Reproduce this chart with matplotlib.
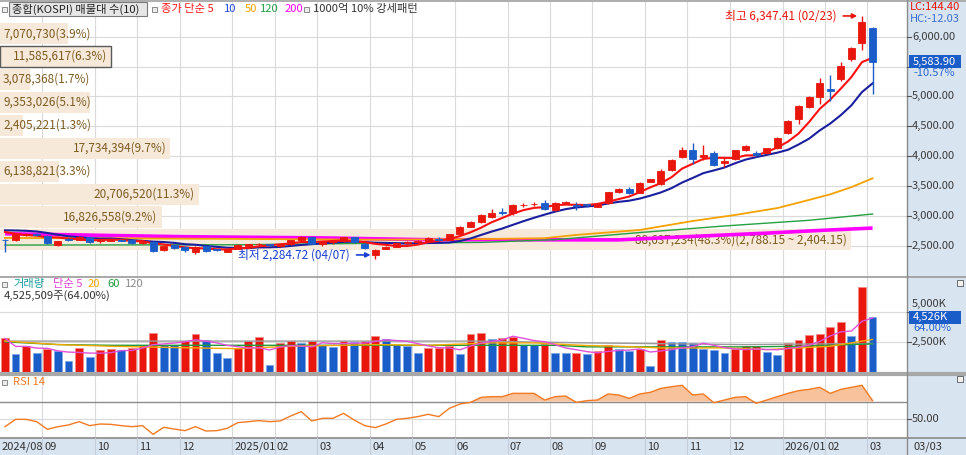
import matplotlib
matplotlib.use("Agg")
import matplotlib.pyplot as plt
import matplotlib.transforms as mtrans
from matplotlib.patches import Rectangle
from matplotlib.lines import Line2D
import numpy as np
import pandas as pd

plt.rcParams['font.family'] = ['Noto Sans CJK KR', 'DejaVu Sans']
plt.rcParams['axes.unicode_minus'] = False

# ---------------- data ----------------
month_labels = ['2024/08', '09', '10', '11', '12', '2025/01', '02', '03', '04', '05',
                '06', '07', '08', '09', '10', '11', '12', '2026/01', '02', '03']
month_start = [0, 4, 9, 13, 17, 22, 26, 30, 35, 39, 43, 48, 52, 56, 61, 65, 69, 74, 78, 82]

prior_closes = [2722, 2758, 2784, 2797, 2862, 2857, 2795, 2731, 2676]

opens = [2600, 2590, 2680, 2700, 2665, 2510, 2605, 2600, 2640, 2570,
         2585, 2600, 2590, 2540, 2565, 2420, 2505, 2470, 2390, 2490,
         2440, 2400, 2450, 2500, 2520, 2530, 2490, 2520, 2590, 2640,
         2530, 2560, 2570, 2640, 2520, 2340, 2450, 2480, 2545, 2560,
         2580, 2620, 2595, 2700, 2820, 2890, 2980, 3070, 3040, 3175,
         3190, 3210, 3100, 3215, 3175, 3190, 3150, 3210, 3400, 3450,
         3390, 3570, 3540, 3760, 3980, 4110, 3990, 4060, 3890, 3950,
         4110, 4050, 4060, 4130, 4380, 4620, 4820, 4990, 5120, 5290,
         5620, 5890, 6150]
highs = [2615, 2700, 2720, 2710, 2680, 2580, 2630, 2660, 2650, 2610,
         2620, 2610, 2620, 2590, 2570, 2510, 2520, 2500, 2495, 2500,
         2450, 2450, 2530, 2530, 2550, 2535, 2530, 2600, 2670, 2650,
         2580, 2590, 2650, 2650, 2540, 2440, 2490, 2550, 2570, 2590,
         2640, 2640, 2700, 2830, 2920, 3030, 3110, 3130, 3190, 3220,
         3230, 3260, 3230, 3240, 3230, 3200, 3215, 3400, 3470, 3490,
         3560, 3620, 3780, 3950, 4146, 4226, 4180, 4080, 3990, 4110,
         4180, 4090, 4140, 4320, 4600, 4860, 5010, 5300, 5360, 5570,
         5820, 6347.41, 6170]
lows = [2387, 2570, 2660, 2660, 2530, 2490, 2570, 2590, 2550, 2550,
        2575, 2570, 2530, 2520, 2400, 2410, 2440, 2390, 2360, 2390,
        2410, 2390, 2440, 2480, 2505, 2500, 2470, 2510, 2580, 2520,
        2500, 2530, 2560, 2540, 2440, 2284.72, 2440, 2470, 2530, 2550,
        2570, 2580, 2590, 2690, 2810, 2880, 2970, 3020, 3020, 3140,
        3170, 3090, 3080, 3190, 3100, 3140, 3140, 3200, 3380, 3370,
        3380, 3560, 3520, 3750, 3960, 3870, 3930, 3830, 3825, 3940,
        4090, 3990, 4040, 4120, 4370, 4540, 4800, 4870, 4930, 5260,
        5600, 5770, 5040]
closes = [2588, 2697, 2701, 2674, 2544, 2575, 2593, 2649, 2569, 2597,
          2593, 2583, 2542, 2561, 2416, 2501, 2455, 2428, 2480, 2404,
          2429, 2441, 2515, 2523, 2536, 2517, 2521, 2591, 2641, 2532,
          2563, 2566, 2643, 2557, 2465, 2420, 2483, 2546, 2559, 2577,
          2626, 2592, 2697, 2812, 2894, 3010, 3050, 3054, 3175, 3188,
          3196, 3119, 3210, 3225, 3168, 3186, 3205, 3395, 3445, 3386,
          3549, 3610, 3748, 3941, 4107, 3953, 4011, 3853, 3926, 4100,
          4167, 4021, 4129, 4309, 4586, 4840, 4990, 5224, 5090, 5507,
          5808, 6244, 5583.90]

volume_k = [2771, 1442, 2122, 1527, 1867, 1725, 933, 1980, 1244, 1839,
            1923, 1839, 2008, 2235, 3253, 2235, 2207, 2517, 3111, 2658,
            1527, 1159, 1980, 2517, 2856, 538, 2404, 2517, 2376, 2517,
            2235, 2065, 2573, 2461, 2573, 2941, 2743, 2263, 2178, 1584,
            1968, 2000, 2150, 1442, 3111, 3196, 2743, 2800, 2913, 2263,
            2248, 2269, 1584, 1527, 1544, 1442, 1754, 2207, 1895, 1725,
            1895, 481, 2658, 2461, 2445, 2376, 1923, 1782, 1527, 1867,
            2122, 2150, 1612, 1386, 2433, 2630, 3026, 3111, 3705, 4157,
            2941, 7071, 4525.509]

rsi14 = [41.1, 49.6, 49.6, 46.9, 38.1, 41.1, 43.1, 46.9, 42.3, 44.2,
         43.8, 42.3, 41.1, 42.3, 32.3, 40.4, 38.4, 36.5, 41.1, 36.1,
         36.5, 39.2, 45.8, 46.9, 48.1, 46.9, 47.7, 53.4, 58.5, 47.7,
         50.8, 50.8, 56.5, 48.8, 42.3, 40.0, 44.2, 49.6, 50.8, 52.7,
         55.4, 52.7, 62.3, 67.3, 69.2, 75.0, 75.8, 75.8, 79.6, 79.6,
         79.6, 71.9, 75.8, 76.5, 69.2, 71.2, 71.9, 78.9, 77.7, 73.8,
         78.9, 80.8, 85.4, 87.3, 88.9, 77.7, 78.9, 68.8, 71.9, 75.0,
         75.8, 68.1, 71.9, 75.8, 79.6, 82.7, 84.2, 86.6, 79.6, 84.2,
         86.6, 88.9, 71.2]

# long moving averages (index, value)
ma50_idx = [0, 20, 35, 45, 51, 54, 60, 65, 69, 73, 75, 78, 80, 82]
ma50_val = [2630, 2615, 2600, 2610, 2625, 2680, 2763, 2913, 3014, 3130, 3220, 3360, 3480, 3628]
ma120_idx = [0, 22, 35, 45, 52, 60, 68, 76, 82]
ma120_val = [2510, 2515, 2540, 2555, 2600, 2720, 2830, 2925, 3030]
ma200_idx = [0, 17, 30, 40, 58, 65, 72, 77, 82]
ma200_val = [2700, 2650, 2630, 2600, 2597, 2655, 2710, 2755, 2795]

vol_ma20_idx = [0, 5, 10, 18, 22, 27, 35, 40, 46, 50, 55, 58, 62, 68, 72, 75, 78, 82]
vol_ma20_val = [2550, 2260, 2120, 1980, 1920, 2120, 2260, 2200, 2400, 2400, 2180, 2120, 1980, 1980, 1840, 1980, 2120, 2690]
vol_ma60_idx = [0, 5, 10, 45, 52, 55, 70, 75, 82]
vol_ma60_val = [2490, 2260, 2200, 2200, 2200, 2070, 2070, 2120, 2320]
vol_ma120_idx = [0, 45, 55, 70, 82]
vol_ma120_val = [2550, 2550, 2400, 2260, 2350]

# volume profile (매물대), bottom band first
vp_values = [88637234, 16826558, 20706520, 6138821, 17734394, 2405221, 9353026, 3078368, 11585617, 7070730]
vp_pct = [48.3, 9.2, 11.3, 3.3, 9.7, 1.3, 5.1, 1.7, 6.3, 3.9]
vp_band_low = 2404.15
vp_band_step = 384.0
vp_current_band = 8

price_ticks = [2500, 3000, 3500, 4000, 4500, 5000, 5500, 6000]
price_labels_shown = [2500, 3000, 3500, 4000, 4500, 5000, 6000]
vol_ticks = [2500, 5000]

hi_idx, hi_text = 81, "최고 6,347.41 (02/23)"
lo_idx, lo_text = 35, "최저 2,284.72 (04/07)"
last_close_text = "5,583.90"
last_change_text = "-10.57%"
lc_text, hc_text = "LC:144.40", "HC:-12.03"
vol_last_text, vol_pct_text = "4,526K", "64.00%"
vol_info_text = "4,525,509주(64.00%)"
date_text = "03/03"

# ---------------- layout ----------------
W, H = 966, 455
XPLOT = 907
SLOT, X0 = 10.58, 5.0
RED, BLUE = '#e8160c', '#1a5cc8'
STRIP = '#d9e4f1'
GRID = '#dadada'
VPBAR = '#f6e9da'
VPTXT = '#7d5c22'
FS = 8
FSL = 8.5
FLEG = 8.1

fig = plt.figure(figsize=(W / 100, H / 100), dpi=100)
fig.patch.set_facecolor('white')


def pane(y_top, y_bot):
    ax = fig.add_axes([0, 1 - y_bot / H, XPLOT / W, (y_bot - y_top) / H])
    ax.set_xlim(-X0 / SLOT, (XPLOT - X0) / SLOT)
    ax.axis('off')
    return ax


def frect(x0, y0, x1, y1, **kw):
    r = Rectangle((x0 / W, 1 - y1 / H), (x1 - x0) / W, (y1 - y0) / H,
                  transform=fig.transFigure, **kw)
    fig.patches.append(r)
    return r


def ftext(px, py, s, **kw):
    kw.setdefault('va', 'center')
    kw.setdefault('fontsize', FS)
    kw.setdefault('zorder', 3)
    return fig.text(px / W, 1 - py / H, s, **kw)


def square(px, py):
    frect(px - 2.5, py - 2.5, px + 2.5, py + 2.5, facecolor='#ececec',
          edgecolor='#8a8a8a', linewidth=0.7, zorder=2)


axp = pane(2, 276)
axp.set_ylim(1992, 6581)
axv = pane(277, 372)
axv.set_ylim(-25, 7892)
axr = pane(375, 437)
axr.set_ylim(29.2, 100.8)

n = len(closes)
x = np.arange(n)
o = np.array(opens, float)
h = np.array(highs, float)
l = np.array(lows, float)
c = np.array(closes, float)
vol = np.array(volume_k, float)
rsi = np.array(rsi14, float)

# grids
for ax in (axp, axv, axr):
    for m in month_start[1:]:
        ax.axvline(m - 0.5, color=GRID, lw=0.8, zorder=0.5)
for p in price_ticks:
    axp.axhline(p, color=GRID, lw=0.8, zorder=0.5)
for v in vol_ticks:
    axv.axhline(v, color=GRID, lw=0.8, zorder=0.5)
axr.axhline(50, color=GRID, lw=0.8, zorder=0.5)

# volume profile
bt = mtrans.blended_transform_factory(axp.transAxes, axp.transData)
vmax = max(vp_values)
renderer = fig.canvas.get_renderer()
for k, (v, pct) in enumerate(zip(vp_values, vp_pct)):
    lo_b = vp_band_low + k * vp_band_step
    hi_b = lo_b + vp_band_step
    wpx = v / vmax * 851
    edge = '#5a5a5a' if k == vp_current_band else 'none'
    axp.add_patch(Rectangle((0, lo_b + 15), wpx / XPLOT, vp_band_step - 30, transform=bt,
                            facecolor=VPBAR, edgecolor=edge, lw=1.0, zorder=1))
    label = f"{v:,}({pct}%)"
    if k == 0:
        label += f"({hi_b:,.2f} ~ {lo_b:,.2f})"
    t = axp.text(0, (lo_b + hi_b) / 2, label, transform=bt, fontsize=FSL,
                 color=VPTXT, va='center', ha='left', zorder=1.5)
    tw = t.get_window_extent(renderer).width
    if wpx - 4 >= 3 + tw:
        t.set_x((wpx - 4) / XPLOT)
        t.set_ha('right')
    else:
        t.set_x(3 / XPLOT)

# moving averages
full = pd.Series(prior_closes + closes, dtype=float)
ma5 = full.rolling(5).mean().to_numpy()[len(prior_closes):]
ma10 = full.rolling(10).mean().to_numpy()[len(prior_closes):]
axp.plot(ma200_idx, ma200_val, color='#ff00ff', lw=2.6, zorder=2, solid_capstyle='butt')
axp.plot(ma120_idx, ma120_val, color='#26a043', lw=1.0, zorder=2.1)
axp.plot(ma50_idx, ma50_val, color='#f5a200', lw=1.3, zorder=2.2)
axp.plot(x, ma10, color='#1b1f9e', lw=1.5, zorder=2.4)
axp.plot(x, ma5, color='#ff1010', lw=1.5, zorder=2.5)

# candles
up = c >= o
col = np.where(up, RED, BLUE)
axp.vlines(x, l, h, colors=col, lw=1.0, zorder=3)
body_lo = np.minimum(o, c)
body_h = np.maximum(np.abs(c - o), 14)
axp.bar(x, body_h, bottom=body_lo, width=0.66, color=col, edgecolor=col, lw=0.6, zorder=3.1)

# high / low annotations
axp.annotate(hi_text, xy=(hi_idx - 0.45, h[hi_idx]), xytext=(-21, 0), textcoords='offset pixels',
             ha='right', va='center', fontsize=FSL, color=RED, zorder=5,
             arrowprops=dict(arrowstyle='-|>', color=RED, lw=1.2, mutation_scale=7,
                             shrinkA=3, shrinkB=0))
axp.annotate(lo_text, xy=(lo_idx - 0.45, l[lo_idx] + 60), xytext=(-21, 0), textcoords='offset pixels',
             ha='right', va='center', fontsize=FSL, color='#1a3fd0', zorder=5,
             arrowprops=dict(arrowstyle='-|>', color='#1a3fd0', lw=1.2, mutation_scale=7,
                             shrinkA=3, shrinkB=0))

# volume
vup = np.r_[True, np.diff(vol) > 0]
vcol = np.where(vup, RED, BLUE)
vedge = np.where(vup, '#f58a85', '#7fa8e6')
axv.bar(x, vol, width=0.74, color=vcol, edgecolor=vedge, lw=0.6, zorder=2)
vma5 = pd.Series(vol).rolling(5, min_periods=1).mean().to_numpy()
axv.plot(vol_ma120_idx, vol_ma120_val, color='#9a9a9a', lw=1.0, zorder=3)
axv.plot(vol_ma60_idx, vol_ma60_val, color='#1f9a3a', lw=1.0, zorder=3)
axv.plot(vol_ma20_idx, vol_ma20_val, color='#f5a800', lw=1.0, zorder=3)
axv.plot(x, vma5, color='#e050d8', lw=1.0, zorder=3.1)

# RSI
axr.axhline(70, color='#8c8c8c', lw=1.0, zorder=1)
axr.fill_between(x, rsi, 70, where=rsi >= 70, interpolate=True, color='#f7c29c', lw=0, zorder=1.5)
axr.plot(x, rsi, color='#f27a22', lw=1.0, zorder=2)

# ---------------- frame / strips ----------------
frect(XPLOT, 0, W, H, facecolor=STRIP, edgecolor='none', zorder=1)
frect(0, 437.5, XPLOT, H, facecolor=STRIP, edgecolor='none', zorder=1)
for yy, lw_, cc in [(0.5, 1.2, '#a0a0a0'), (276.5, 1.2, '#9a9a9a'), (373.5, 3.0, '#a8a8a8'),
                    (437.5, 1.2, '#8a8a8a')]:
    fig.lines.append(Line2D([0, 1], [1 - yy / H] * 2, transform=fig.transFigure,
                            color=cc, lw=lw_, zorder=1.5))
fig.lines.append(Line2D([XPLOT / W] * 2, [0, 1], transform=fig.transFigure,
                        color='#8a8a8a', lw=1.0, zorder=1.5))

# month labels in the bottom strip
bx = mtrans.blended_transform_factory(axr.transData, fig.transFigure)
for m, lab in zip(month_start, month_labels):
    if m > 0:
        fig.lines.append(Line2D([m - 0.5] * 2, [0, 1 - 437.5 / H], transform=bx,
                                color='#c4cdd8', lw=0.8, zorder=1.6))
    fig.text(m - 0.5 + 0.2 if m > 0 else -0.3, 1 - 447 / H, lab, transform=bx, fontsize=FS,
             color='#333333', va='center', ha='left', zorder=3)
ftext(914, 447, date_text, color='#333333')

# right axis: price
tp = mtrans.blended_transform_factory(fig.transFigure, axp.transData)
for p in price_labels_shown:
    fig.text((XPLOT + 5) / W, p, f"{p:,.2f}", transform=tp, fontsize=FS, color='#3a3a3a',
             va='center', ha='left', zorder=3)
for p in price_ticks:
    fig.lines.append(Line2D([XPLOT / W, (XPLOT + 4) / W], [p, p], transform=tp, color='#555555',
                            lw=0.8, zorder=2))
ftext(910, 6.5, lc_text, color=RED, fontsize=FS)
ftext(910, 18.5, hc_text, color='#3a6fd0', fontsize=FS)
cy = axp.transData.transform((0, c[-1]))[1]
cy_px = H - cy
frect(909, cy_px - 6.5, 961, cy_px + 6.5, facecolor=BLUE, edgecolor='none', zorder=3.5)
ftext(913, cy_px, last_close_text, color='white', zorder=4)
ftext(913, cy_px + 11, last_change_text, color='#2a66d0')

# right axis: volume
tv = mtrans.blended_transform_factory(fig.transFigure, axv.transData)
vy_px = H - axv.transData.transform((0, vol[-1]))[1]
for v in vol_ticks:
    ty = H - axv.transData.transform((0, v))[1]
    if abs(ty - vy_px) < 12:
        ty = vy_px - 13          # keep the tick label clear of the last-value box
    ftext(XPLOT + 5, ty, f"{v:,}K", color='#3a3a3a')
    fig.lines.append(Line2D([XPLOT / W, (XPLOT + 4) / W], [v, v], transform=tv, color='#555555',
                            lw=0.8, zorder=2))
frect(909, vy_px - 6.5, 961, vy_px + 6.5, facecolor=BLUE, edgecolor='none', zorder=3.5)
ftext(913, vy_px, vol_last_text, color='white', zorder=4)
ftext(913, vy_px + 11, vol_pct_text, color='#2a66d0')

# right axis: RSI
tr = mtrans.blended_transform_factory(fig.transFigure, axr.transData)
fig.text((XPLOT + 5) / W, 50, "50.00", transform=tr, fontsize=FS, color='#3a3a3a',
         va='center', ha='left', zorder=3)
fig.lines.append(Line2D([XPLOT / W, (XPLOT + 4) / W], [50, 50], transform=tr, color='#555555',
                        lw=0.8, zorder=2))
for yy in (283, 379):
    frect(957, yy - 3, 963, yy + 3, facecolor='#f2f2f2', edgecolor='#6a6a6a', lw=0.7, zorder=2)

# ---------------- legends ----------------
square(4.5, 9)
frect(9, 2.5, 147, 15.5, facecolor='#e6e6e6', edgecolor='#7a7a7a', lw=0.8, zorder=2)
ftext(11.5, 9, "종합(KOSPI) 매물대 수(10)", color='#222222', fontsize=FLEG)
square(154, 9)
ftext(161, 9, "종가 단순 5", color='#ff1a1a', fontsize=FLEG)
ftext(224, 9, "10", color='#2446d8', fontsize=FLEG)
ftext(245, 9, "50", color='#f5a200', fontsize=FLEG)
ftext(260, 9, "120", color='#22a045', fontsize=FLEG)
ftext(285, 9, "200", color='#ff00ff', fontsize=FLEG)
square(306, 9)
ftext(313, 9, "1000억 10% 강세패턴", color='#333333', fontsize=FLEG)

square(4.5, 284)
ftext(13, 284, "거래량", color='#1e9e9e', fontsize=FLEG)
ftext(53, 284, "단순 5", color='#e040d8', fontsize=FLEG)
ftext(88, 284, "20", color='#f5a800', fontsize=FLEG)
ftext(107, 284, "60", color='#1f9a3a', fontsize=FLEG)
ftext(125, 284, "120", color='#8a8a8a', fontsize=FLEG)
ftext(4, 296, vol_info_text, color='#333333', fontsize=FLEG)

square(4.5, 382)
ftext(13, 382, "RSI 14", color='#f27a22', fontsize=FLEG)

fig.savefig('out.png', dpi=100, facecolor='white')
